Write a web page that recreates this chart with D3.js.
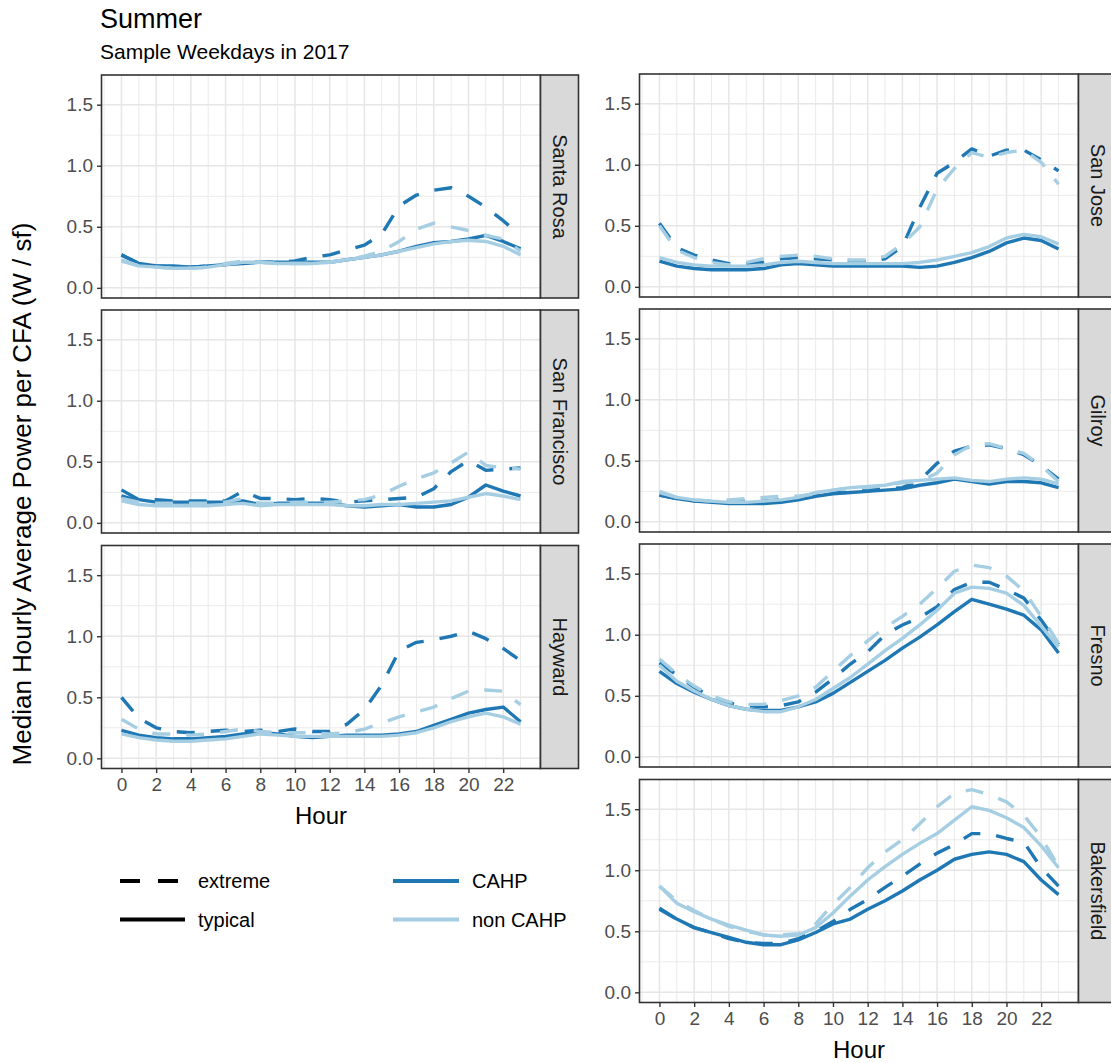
<!DOCTYPE html>
<html><head><meta charset="utf-8">
<script src="https://cdn.jsdelivr.net/npm/d3@7"></script>
<style>
body{margin:0;background:#fff;}
svg{display:block;font-family:"Liberation Sans",Arial,Helvetica,sans-serif;}
</style></head><body>
<svg id="chart" width="1111" height="1063"></svg>
<script>
// Hour of day (x) and the facet cities
const hours = [0,1,2,3,4,5,6,7,8,9,10,11,12,13,14,15,16,17,18,19,20,21,22,23];
const hourTicks = [0,2,4,6,8,10,12,14,16,18,20,22];
const powerTicks = [0, 0.5, 1.0, 1.5];
const cities = ["Santa Rosa","San Francisco","Hayward","San Jose","Gilroy","Fresno","Bakersfield"];
const groups = ["CAHP","non CAHP"];
const dayTypes = ["extreme","typical"];

// Median hourly average power per CFA (W / sf)
const santaRosaCahpTypical     = [0.27,0.20,0.18,0.18,0.17,0.18,0.19,0.20,0.21,0.21,0.21,0.21,0.21,0.23,0.25,0.27,0.30,0.34,0.37,0.38,0.40,0.43,0.38,0.32];
const santaRosaCahpExtreme     = [0.27,0.20,0.18,0.17,0.17,0.18,0.19,0.21,0.21,0.21,0.22,0.25,0.27,0.31,0.35,0.44,0.67,0.76,0.80,0.82,0.75,0.66,0.55,0.43];
const santaRosaNonTypical      = [0.23,0.18,0.17,0.16,0.16,0.17,0.19,0.21,0.21,0.20,0.20,0.20,0.21,0.23,0.25,0.27,0.30,0.33,0.36,0.38,0.39,0.38,0.34,0.27];
const santaRosaNonExtreme      = [0.22,0.18,0.17,0.16,0.16,0.17,0.20,0.22,0.21,0.20,0.20,0.20,0.21,0.23,0.26,0.30,0.38,0.48,0.53,0.50,0.47,0.43,0.40,0.30];

const sanFranciscoCahpTypical  = [0.27,0.19,0.17,0.17,0.17,0.17,0.17,0.18,0.15,0.16,0.16,0.16,0.16,0.14,0.13,0.14,0.15,0.13,0.13,0.15,0.21,0.31,0.26,0.22];
const sanFranciscoCahpExtreme  = [0.22,0.18,0.19,0.18,0.18,0.18,0.18,0.26,0.20,0.20,0.19,0.20,0.19,0.17,0.18,0.19,0.20,0.21,0.28,0.42,0.51,0.43,0.44,0.45];
const sanFranciscoNonTypical   = [0.18,0.15,0.14,0.14,0.14,0.14,0.15,0.16,0.14,0.15,0.15,0.15,0.15,0.14,0.14,0.15,0.15,0.16,0.17,0.18,0.21,0.24,0.22,0.19];
const sanFranciscoNonExtreme   = [0.20,0.17,0.16,0.16,0.16,0.16,0.17,0.20,0.16,0.16,0.17,0.17,0.17,0.18,0.19,0.23,0.30,0.36,0.41,0.49,0.58,0.47,0.45,0.44];

const haywardCahpTypical       = [0.23,0.19,0.17,0.16,0.16,0.17,0.18,0.20,0.21,0.20,0.18,0.17,0.18,0.19,0.19,0.19,0.20,0.22,0.27,0.32,0.37,0.40,0.42,0.30];
const haywardCahpExtreme       = [0.50,0.33,0.25,0.22,0.21,0.22,0.23,0.22,0.23,0.22,0.24,0.22,0.22,0.28,0.40,0.60,0.88,0.95,0.97,1.00,1.04,0.98,0.90,0.80];
const haywardNonTypical        = [0.20,0.17,0.15,0.14,0.14,0.15,0.16,0.18,0.20,0.19,0.18,0.18,0.18,0.18,0.18,0.18,0.19,0.21,0.25,0.30,0.34,0.37,0.34,0.28];
const haywardNonExtreme        = [0.32,0.24,0.20,0.20,0.19,0.20,0.22,0.24,0.22,0.21,0.21,0.21,0.20,0.21,0.24,0.29,0.34,0.38,0.42,0.49,0.55,0.56,0.55,0.44];

const sanJoseCahpTypical       = [0.21,0.17,0.15,0.14,0.14,0.14,0.15,0.18,0.19,0.18,0.17,0.17,0.17,0.17,0.17,0.16,0.17,0.20,0.24,0.29,0.36,0.40,0.38,0.31];
const sanJoseCahpExtreme       = [0.52,0.32,0.26,0.22,0.19,0.19,0.20,0.23,0.24,0.23,0.22,0.21,0.21,0.23,0.33,0.65,0.93,1.02,1.13,1.07,1.12,1.12,1.04,0.95];
const sanJoseNonTypical        = [0.24,0.20,0.18,0.17,0.17,0.17,0.18,0.20,0.21,0.20,0.19,0.19,0.19,0.19,0.19,0.20,0.22,0.25,0.28,0.33,0.40,0.43,0.41,0.35];
const sanJoseNonExtreme        = [0.50,0.30,0.24,0.20,0.18,0.20,0.23,0.25,0.26,0.25,0.23,0.22,0.22,0.25,0.35,0.49,0.80,0.97,1.10,1.06,1.10,1.12,1.02,0.84];

const gilroyCahpTypical        = [0.22,0.19,0.17,0.16,0.15,0.15,0.15,0.16,0.18,0.21,0.23,0.24,0.25,0.26,0.27,0.30,0.32,0.35,0.33,0.31,0.33,0.33,0.32,0.28];
const gilroyCahpExtreme        = [0.22,0.19,0.17,0.17,0.17,0.17,0.17,0.18,0.19,0.21,0.24,0.24,0.26,0.27,0.28,0.34,0.48,0.58,0.62,0.63,0.60,0.55,0.46,0.35];
const gilroyNonTypical         = [0.25,0.20,0.18,0.17,0.16,0.16,0.17,0.18,0.20,0.24,0.26,0.28,0.29,0.30,0.33,0.34,0.35,0.36,0.34,0.33,0.35,0.36,0.35,0.31];
const gilroyNonExtreme         = [0.24,0.20,0.18,0.17,0.18,0.19,0.20,0.21,0.21,0.23,0.26,0.28,0.28,0.30,0.32,0.33,0.40,0.55,0.63,0.64,0.60,0.56,0.46,0.33];

const fresnoCahpTypical        = [0.70,0.60,0.53,0.47,0.42,0.39,0.38,0.38,0.41,0.45,0.52,0.61,0.70,0.79,0.89,0.98,1.08,1.19,1.29,1.25,1.21,1.16,1.04,0.85];
const fresnoCahpExtreme        = [0.77,0.67,0.57,0.49,0.44,0.42,0.41,0.42,0.45,0.53,0.64,0.76,0.86,1.00,1.08,1.14,1.23,1.37,1.43,1.43,1.37,1.30,1.12,0.92];
const fresnoNonTypical         = [0.75,0.62,0.54,0.47,0.42,0.39,0.37,0.37,0.41,0.47,0.56,0.65,0.76,0.87,0.97,1.08,1.20,1.34,1.39,1.38,1.34,1.24,1.07,0.90];
const fresnoNonExtreme         = [0.80,0.68,0.58,0.50,0.45,0.43,0.43,0.46,0.50,0.57,0.70,0.83,0.95,1.06,1.15,1.25,1.38,1.52,1.57,1.55,1.48,1.36,1.15,0.93];

const bakersfieldCahpTypical   = [0.69,0.60,0.53,0.49,0.45,0.41,0.39,0.39,0.43,0.49,0.56,0.60,0.68,0.75,0.83,0.92,1.00,1.09,1.13,1.15,1.13,1.07,0.92,0.80];
const bakersfieldCahpExtreme   = [0.68,0.60,0.53,0.49,0.44,0.41,0.40,0.40,0.44,0.50,0.58,0.68,0.76,0.86,0.95,1.05,1.14,1.21,1.30,1.30,1.26,1.23,1.02,0.87];
const bakersfieldNonTypical    = [0.87,0.73,0.66,0.60,0.55,0.51,0.47,0.46,0.47,0.53,0.65,0.79,0.92,1.03,1.13,1.22,1.30,1.41,1.52,1.49,1.43,1.35,1.20,1.02];
const bakersfieldNonExtreme    = [0.87,0.75,0.67,0.60,0.54,0.50,0.47,0.47,0.48,0.56,0.72,0.86,1.02,1.15,1.25,1.38,1.52,1.63,1.66,1.62,1.56,1.45,1.27,1.03];

const seriesByCity = {
  "Santa Rosa":    {"CAHP": {extreme: santaRosaCahpExtreme,    typical: santaRosaCahpTypical},    "non CAHP": {extreme: santaRosaNonExtreme,    typical: santaRosaNonTypical}},
  "San Francisco": {"CAHP": {extreme: sanFranciscoCahpExtreme, typical: sanFranciscoCahpTypical}, "non CAHP": {extreme: sanFranciscoNonExtreme, typical: sanFranciscoNonTypical}},
  "Hayward":       {"CAHP": {extreme: haywardCahpExtreme,      typical: haywardCahpTypical},      "non CAHP": {extreme: haywardNonExtreme,      typical: haywardNonTypical}},
  "San Jose":      {"CAHP": {extreme: sanJoseCahpExtreme,      typical: sanJoseCahpTypical},      "non CAHP": {extreme: sanJoseNonExtreme,      typical: sanJoseNonTypical}},
  "Gilroy":        {"CAHP": {extreme: gilroyCahpExtreme,       typical: gilroyCahpTypical},       "non CAHP": {extreme: gilroyNonExtreme,       typical: gilroyNonTypical}},
  "Fresno":        {"CAHP": {extreme: fresnoCahpExtreme,       typical: fresnoCahpTypical},       "non CAHP": {extreme: fresnoNonExtreme,       typical: fresnoNonTypical}},
  "Bakersfield":   {"CAHP": {extreme: bakersfieldCahpExtreme,  typical: bakersfieldCahpTypical},  "non CAHP": {extreme: bakersfieldNonExtreme,  typical: bakersfieldNonTypical}}
};

// ---------- layout ----------
const svg = d3.select("#chart");
const panelW = 439, panelH = 223, stripW = 38;
const leftX = 101.5, rightX = 639.5;
const panels = [
  {city: "Santa Rosa",    x: leftX,  y: 75,    xAxis: false},
  {city: "San Francisco", x: leftX,  y: 310,   xAxis: false},
  {city: "Hayward",       x: leftX,  y: 545.5, xAxis: true},
  {city: "San Jose",      x: rightX, y: 74,    xAxis: false},
  {city: "Gilroy",        x: rightX, y: 309,   xAxis: false},
  {city: "Fresno",        x: rightX, y: 544,   xAxis: false},
  {city: "Bakersfield",   x: rightX, y: 779.5, xAxis: true}
];

const colour = d3.scaleOrdinal().domain(groups).range(["#1f78b4", "#a6cee3"]);
const dashes = d3.scaleOrdinal().domain(dayTypes).range(["18,16", null]);

// shared scales, padded 5% like the plotting default; y always includes zero
const [h0, h1] = d3.extent(hours);
const hPad = (h1 - h0) * 0.05;
const maxVal = d3.max(cities, c => d3.max(groups, g => d3.max(dayTypes, t => d3.max(seriesByCity[c][g][t]))));
const x = d3.scaleLinear().domain([h0 - hPad, h1 + hPad]).range([0, panelW]);
const y = d3.scaleLinear().domain([-maxVal * 0.05, maxVal * 1.05]).range([panelH, 0]);

const hourMinor = d3.range(-1, 24, 2).filter(v => v >= x.domain()[0] && v <= x.domain()[1]);
const powerMinor = [0.25, 0.75, 1.25, 1.75].filter(v => v <= y.domain()[1]);

const line = d3.line().x((d, i) => x(hours[i])).y(d => y(d));

// draw order within a panel
const drawOrder = [
  ["CAHP", "extreme"], ["CAHP", "typical"],
  ["non CAHP", "extreme"], ["non CAHP", "typical"]
];

panels.forEach(p => {
  const g = svg.append("g").attr("transform", `translate(${p.x},${p.y})`);
  g.append("rect").attr("width", panelW).attr("height", panelH).attr("fill", "#fff");

  // grid
  const grid = g.append("g");
  grid.selectAll(".vmin").data(hourMinor).join("line")
    .attr("x1", d => x(d)).attr("x2", d => x(d)).attr("y1", 0).attr("y2", panelH)
    .attr("stroke", "#ebebeb").attr("stroke-width", 1);
  grid.selectAll(".hmin").data(powerMinor).join("line")
    .attr("y1", d => y(d)).attr("y2", d => y(d)).attr("x1", 0).attr("x2", panelW)
    .attr("stroke", "#ebebeb").attr("stroke-width", 1);
  grid.selectAll(".vmaj").data(hourTicks).join("line")
    .attr("x1", d => x(d)).attr("x2", d => x(d)).attr("y1", 0).attr("y2", panelH)
    .attr("stroke", "#e6e6e6").attr("stroke-width", 1.5);
  grid.selectAll(".hmaj").data(powerTicks).join("line")
    .attr("y1", d => y(d)).attr("y2", d => y(d)).attr("x1", 0).attr("x2", panelW)
    .attr("stroke", "#e6e6e6").attr("stroke-width", 1.5);

  // series
  drawOrder.forEach(([grp, typ]) => {
    g.append("path")
      .datum(seriesByCity[p.city][grp][typ])
      .attr("d", line)
      .attr("fill", "none")
      .attr("stroke", colour(grp))
      .attr("stroke-width", 3.4)
      .attr("stroke-dasharray", dashes(typ))
      .attr("stroke-linejoin", "round");
  });

  // panel border
  g.append("rect").attr("width", panelW).attr("height", panelH)
    .attr("fill", "none").attr("stroke", "#333").attr("stroke-width", 1.6);

  // strip on the right
  g.append("rect").attr("x", panelW).attr("width", stripW).attr("height", panelH)
    .attr("fill", "#d9d9d9").attr("stroke", "#333").attr("stroke-width", 1.6);
  g.append("text")
    .attr("transform", `translate(${panelW + stripW / 2},${panelH / 2}) rotate(90)`)
    .attr("text-anchor", "middle").attr("dy", "0.35em")
    .attr("font-size", 20).attr("fill", "#1a1a1a")
    .text(p.city);

  // y axis
  const ya = g.append("g").call(
    d3.axisLeft(y).tickValues(powerTicks).tickFormat(d3.format(".1f")).tickSize(4.5).tickPadding(4));
  ya.select(".domain").remove();
  ya.selectAll(".tick line").attr("stroke", "#333").attr("stroke-width", 1.4);
  ya.selectAll(".tick text").attr("font-size", 19).attr("fill", "#4d4d4d").attr("font-family", null);

  if (p.xAxis) {
    const xa = g.append("g").attr("transform", `translate(0,${panelH})`).call(
      d3.axisBottom(x).tickValues(hourTicks).tickFormat(d3.format("d")).tickSize(4.5).tickPadding(5));
    xa.select(".domain").remove();
    xa.selectAll(".tick line").attr("stroke", "#333").attr("stroke-width", 1.4);
    xa.selectAll(".tick text").attr("font-size", 19).attr("fill", "#4d4d4d").attr("font-family", null);
    g.append("text").attr("x", panelW / 2).attr("y", panelH + 55)
      .attr("text-anchor", "middle").attr("font-size", 24).attr("fill", "#000").text("Hour");
  }
});

// titles
svg.append("text").attr("x", 100).attr("y", 28).attr("font-size", 27).attr("fill", "#000").text("Summer");
svg.append("text").attr("x", 100).attr("y", 59).attr("font-size", 21).attr("fill", "#000").text("Sample Weekdays in 2017");
svg.append("text")
  .attr("transform", "translate(31,494) rotate(-90)")
  .attr("text-anchor", "middle").attr("font-size", 26).attr("fill", "#000")
  .text("Median Hourly Average Power per CFA (W / sf)");

// legends: line type and group colour
const lt = svg.append("g").attr("transform", "translate(120,881)");
dayTypes.forEach((t, i) => {
  const row = lt.append("g").attr("transform", `translate(0,${i * 38.5})`);
  row.append("line").attr("x1", 0).attr("x2", 65).attr("stroke", "#000").attr("stroke-width", 4)
    .attr("stroke-dasharray", t === "extreme" ? "20,18" : null);
  row.append("text").attr("x", 78).attr("dy", "0.35em").attr("font-size", 20).attr("fill", "#000").text(t);
});
const lc = svg.append("g").attr("transform", "translate(393,881)");
groups.forEach((grp, i) => {
  const row = lc.append("g").attr("transform", `translate(0,${i * 38.5})`);
  row.append("line").attr("x1", 0).attr("x2", 66).attr("stroke", colour(grp)).attr("stroke-width", 4);
  row.append("text").attr("x", 79).attr("dy", "0.35em").attr("font-size", 20).attr("fill", "#000").text(grp);
});
</script>
</body></html>
